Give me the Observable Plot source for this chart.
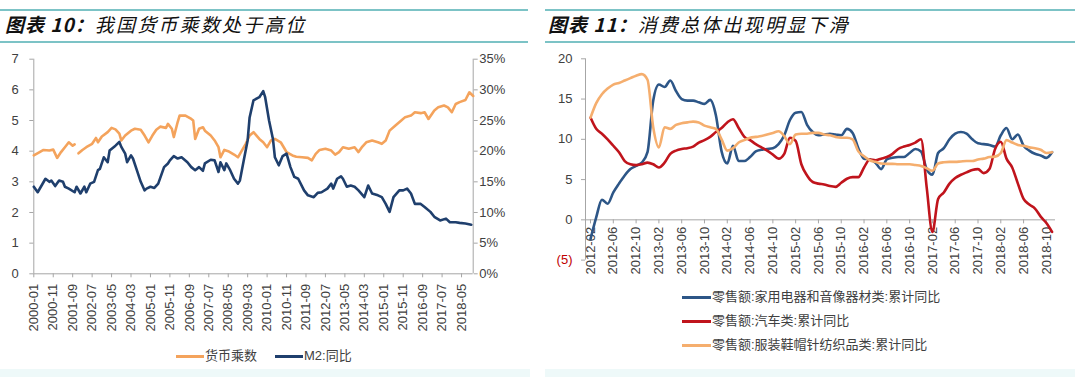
<!DOCTYPE html>
<html><head><meta charset="utf-8">
<script src="https://cdn.jsdelivr.net/npm/d3@7"></script>
<script src="https://cdn.jsdelivr.net/npm/@observablehq/plot@0.6"></script>
<style>
body{margin:0;background:#fff;width:1080px;height:377px;overflow:hidden;position:relative;font-family:"Liberation Sans","Noto Sans CJK SC",Arial,sans-serif;}
.abs{position:absolute;}
.tline{position:absolute;height:1.5px;background:#7cc3c6;}
.title{position:absolute;top:10px;font-family:"Noto Sans CJK SC",sans-serif;font-style:italic;font-size:19px;letter-spacing:2.2px;line-height:28px;color:#111;white-space:nowrap;}
.title b{font-weight:700;letter-spacing:1px;}
.band{position:absolute;top:369px;height:8px;background:#eef9f9;}
.sw{position:absolute;height:3px;}
.lt{position:absolute;font-size:13px;line-height:16px;color:#404040;white-space:nowrap;font-family:"Liberation Sans","Noto Sans CJK SC",sans-serif;}
</style></head>
<body>
<div class="tline" style="left:0;width:528px;top:9px"></div>
<div class="tline" style="left:0;width:528px;top:41px"></div>
<div class="title" style="left:5px"><b>图表 10：</b>我国货币乘数处于高位</div>
<div class="tline" style="left:545px;width:530px;top:9px"></div>
<div class="tline" style="left:545px;width:530px;top:41px"></div>
<div class="title" style="left:548px"><b>图表 11：</b>消费总体出现明显下滑</div>
<div id="left" class="abs" style="left:0;top:45px"></div>
<div id="right" class="abs" style="left:540px;top:45px"></div>
<div id="legL"></div><div id="legR"></div>
<div class="band" style="left:0;width:530px"></div>
<div class="band" style="left:545px;width:530px"></div>
<script>
// ---------- Chart 10: money multiplier & M2 ----------
const leftXTicks = ["2000-01","2000-11","2001-09","2002-07","2003-05","2004-03","2005-01","2005-11","2006-09","2007-07","2008-05","2009-03","2010-01","2010-11","2011-09","2012-07","2013-05","2014-03","2015-01","2015-11","2016-09","2017-07","2018-05"];
const leftYTicks = [0,1,2,3,4,5,6,7];
const rightYTicksPct = [0,5,10,15,20,25,30,35];

const mmDates = ["2000-01","2000-04","2000-06","2000-09","2000-11","2001-01","2001-03","2001-05","2001-07","2001-09","2001-10","2001-11","2001-12","2002-02","2002-04","2002-07","2002-09","2002-10","2002-12","2003-03","2003-05","2003-07","2003-09","2003-10","2003-12","2004-03","2004-05","2004-08","2004-10","2004-12","2005-02","2005-04","2005-06","2005-09","2005-10","2005-12","2006-01","2006-03","2006-04","2006-07","2006-10","2006-11","2006-12","2007-02","2007-04","2007-05","2007-08","2007-10","2007-12","2008-01","2008-03","2008-05","2008-08","2008-10","2008-12","2009-02","2009-04","2009-06","2009-09","2009-11","2010-01","2010-03","2010-05","2010-08","2010-10","2010-11","2011-02","2011-04","2011-07","2011-10","2011-12","2012-02","2012-04","2012-07","2012-10","2012-12","2013-02","2013-04","2013-07","2013-10","2013-12","2014-02","2014-04","2014-07","2014-10","2014-12","2015-02","2015-04","2015-07","2015-10","2015-12","2016-03","2016-05","2016-08","2016-10","2016-12","2017-03","2017-05","2017-08","2017-10","2017-12","2018-02","2018-04","2018-07","2018-09","2018-11"];
const mmValues = [3.86,3.97,4.04,4.02,4.05,3.78,3.97,4.13,4.29,4.18,4.22,null,3.93,4.04,4.13,4.24,4.43,4.29,4.48,4.62,4.76,4.71,4.57,4.35,4.51,4.67,4.73,4.70,4.51,4.29,4.51,4.70,4.80,4.76,4.89,4.73,4.46,4.95,5.16,5.16,5.05,5.00,4.40,4.73,4.78,4.67,4.51,4.35,4.13,3.80,4.04,4.00,3.89,3.80,4.02,4.24,4.51,4.62,4.40,4.29,4.13,4.35,4.40,4.29,4.08,3.97,3.86,3.82,3.80,3.78,3.70,3.91,4.04,4.08,4.02,3.89,3.97,4.13,4.08,4.13,3.97,4.15,4.29,4.35,4.29,4.24,4.35,4.67,4.84,5.00,5.11,5.16,5.27,5.24,5.27,5.05,5.33,5.43,5.49,5.43,5.27,5.54,5.60,5.67,5.92,5.80];

const m2Dates = ["2000-01","2000-03","2000-05","2000-07","2000-09","2000-10","2000-12","2001-02","2001-04","2001-05","2001-07","2001-10","2001-11","2002-01","2002-03","2002-04","2002-06","2002-08","2002-10","2002-11","2003-01","2003-03","2003-04","2003-07","2003-09","2003-10","2003-12","2004-01","2004-03","2004-04","2004-06","2004-08","2004-10","2004-11","2005-01","2005-03","2005-05","2005-08","2005-10","2005-11","2006-01","2006-03","2006-05","2006-08","2006-10","2006-12","2007-02","2007-04","2007-05","2007-08","2007-10","2007-12","2008-01","2008-03","2008-04","2008-06","2008-08","2008-10","2008-11","2009-01","2009-03","2009-04","2009-06","2009-09","2009-11","2009-12","2010-02","2010-04","2010-05","2010-07","2010-09","2010-11","2011-01","2011-03","2011-05","2011-08","2011-10","2012-01","2012-03","2012-05","2012-08","2012-10","2012-11","2013-01","2013-03","2013-04","2013-06","2013-08","2013-10","2013-12","2014-03","2014-05","2014-07","2014-10","2014-12","2015-02","2015-04","2015-06","2015-09","2015-11","2016-01","2016-03","2016-05","2016-08","2016-10","2017-01","2017-03","2017-06","2017-09","2017-11","2018-02","2018-04","2018-07","2018-10"];
const m2Values = [14.2,13.3,14.4,15.5,15.0,15.2,14.3,15.2,15.0,14.2,13.9,13.3,14.2,13.1,14.2,13.3,14.7,15.0,16.9,17.1,19.0,18.2,20.1,20.9,21.5,20.7,19.6,18.2,19.3,18.8,16.9,15.0,13.6,13.9,14.2,14.0,14.7,17.4,18.0,18.5,19.2,18.8,19.0,18.2,17.4,16.9,17.4,16.8,18.0,18.6,18.5,16.6,18.2,16.9,18.0,16.9,15.5,14.7,15.2,18.5,21.8,25.5,28.3,28.8,29.8,28.8,25.0,22.0,19.0,17.7,19.2,19.6,17.4,15.8,15.5,13.6,12.8,12.5,13.2,13.3,13.9,14.7,13.9,15.5,15.9,15.5,14.2,14.4,14.2,13.6,12.5,14.4,13.1,12.8,12.5,11.4,10.1,12.5,13.6,13.6,13.9,13.1,11.4,11.4,10.9,10.1,9.3,8.7,9.0,8.4,8.4,8.3,8.2,8.0];

// ---------- Chart 11: retail sales ----------
const retailDates = ["2012-02","2012-03","2012-04","2012-05","2012-06","2012-07","2012-08","2012-09","2012-10","2012-11","2012-12",
"2013-01","2013-02","2013-03","2013-04","2013-05","2013-06","2013-07","2013-08","2013-09","2013-10","2013-11","2013-12",
"2014-01","2014-02","2014-03","2014-04","2014-05","2014-06","2014-07","2014-08","2014-09","2014-10","2014-11","2014-12",
"2015-01","2015-02","2015-03","2015-04","2015-05","2015-06","2015-07","2015-08","2015-09","2015-10","2015-11","2015-12",
"2016-01","2016-02","2016-03","2016-04","2016-05","2016-06","2016-07","2016-08","2016-09","2016-10","2016-11","2016-12",
"2017-01","2017-02","2017-03","2017-04","2017-05","2017-06","2017-07","2017-08","2017-09","2017-10","2017-11","2017-12",
"2018-01","2018-02","2018-03","2018-04","2018-05","2018-06","2018-07","2018-08","2018-09","2018-10","2018-11"];
const applianceValues = [-2.4,0.3,2.5,2.0,3.4,4.5,5.5,6.3,6.7,7.1,8.4,14.8,16.8,16.5,17.3,16.0,15.0,14.8,14.8,14.6,14.4,14.9,13.0,8.5,7.0,9.2,7.3,7.3,7.8,8.5,8.7,8.8,8.9,9.4,10.5,12.4,13.3,13.4,11.8,10.9,10.5,10.6,10.7,10.6,10.5,11.3,10.8,8.9,7.6,7.5,7.1,6.3,7.5,7.7,7.8,7.8,8.3,8.8,8.5,6.3,5.6,8.3,8.9,10.0,10.7,10.9,10.7,10.0,9.5,9.4,9.3,9.1,10.5,11.4,10.0,10.6,9.2,8.6,8.2,8.0,7.7,8.4];
const autoValues = [12.7,11.3,10.7,10.0,9.2,8.4,7.3,6.9,6.8,6.9,7.1,6.9,6.5,7.1,8.2,8.6,8.8,8.9,9.1,9.6,9.9,10.3,10.9,11.4,12.1,12.5,11.4,10.3,9.9,9.4,9.0,8.6,8.1,7.6,8.2,10.2,9.8,6.9,5.5,4.7,4.5,4.4,4.2,4.1,4.6,5.1,5.3,5.3,6.5,7.5,7.4,7.6,7.8,8.2,8.8,9.1,9.3,9.6,10.0,4.0,-1.5,2.6,3.4,4.5,5.2,5.6,5.9,6.2,6.3,5.8,6.3,8.8,9.7,7.6,6.5,4.5,2.6,1.9,1.4,0.4,-0.4,-1.5];
const apparelValues = [12.7,14.5,15.6,16.3,16.8,17.0,17.3,17.6,17.9,18.1,17.4,11.5,9.0,11.5,11.3,11.8,12.0,12.1,12.2,12.1,11.7,11.5,11.3,10.0,8.6,8.9,9.6,9.9,10.2,10.3,10.4,10.6,10.8,11.0,10.4,9.4,10.6,10.7,10.7,10.8,10.8,10.6,10.5,10.3,10.2,10.2,10.0,8.5,7.9,7.4,7.2,7.0,6.95,6.95,6.9,6.9,6.9,6.8,6.7,6.4,6.1,7.0,7.15,7.2,7.2,7.25,7.3,7.3,7.5,7.6,7.8,7.85,8.3,9.9,9.6,9.3,9.2,9.0,8.9,8.7,8.3,8.4];
const rightXTicks = ["2012-02","2012-06","2012-10","2013-02","2013-06","2013-10","2014-02","2014-06","2014-10","2015-02","2015-06","2015-10","2016-02","2016-06","2016-10","2017-02","2017-06","2017-10","2018-02","2018-06","2018-10"];
const retailYTicks = [0,5,10,15,20];
const retailNames = ["零售额:家用电器和音像器材类:累计同比","零售额:汽车类:累计同比","零售额:服装鞋帽针纺织品类:累计同比"];
const retailColors = ["#2d5687","#c0141c","#f5ae6e"];

const GREY = "#a6a6a6", TXT = "#404040";
const FONT = "'Liberation Sans','Noto Sans CJK SC',Arial,sans-serif";

// month index helpers
const idx2000 = s => { const [y,m] = s.split("-").map(Number); return (y-2000)*12 + m - 1; };
const idx2012 = s => { const [y,m] = s.split("-").map(Number); return (y-2012)*12 + m - 2; };

const mmData = mmDates.map((d,i)=>({x: idx2000(d), y: mmValues[i]}));
const m2Data = m2Dates.map((d,i)=>({x: idx2000(d), y: m2Values[i]/5})); // right axis: 35% aligned with 7
const leftLab = new Map(leftXTicks.map(s=>[idx2000(s), s]));

const left = Plot.plot({
  width:540, height:295, marginLeft:33.3, marginRight:67.3, marginTop:13.7, marginBottom:66.7,
  style:{fontFamily:FONT, fontSize:"13px", color:TXT, background:"transparent"},
  x:{type:"linear", domain:[0,226]},
  y:{domain:[0,7]},
  marks:[
    Plot.ruleX([0], {stroke:GREY}),
    Plot.ruleX([226], {stroke:GREY}),
    Plot.ruleY([0], {stroke:GREY}),
    Plot.axisY({ticks:leftYTicks, tickFormat:d=>String(d), tickSize:4, tickPadding:11, stroke:GREY, fill:TXT, label:null}),
    Plot.axisY({anchor:"right", ticks:rightYTicksPct.map(v=>v/5), tickFormat:v=>Math.round(v*5)+"%", tickSize:4, tickPadding:2, stroke:GREY, fill:TXT, label:null}),
    Plot.axisX({ticks:leftXTicks.map(idx2000), tickFormat:i=>leftLab.get(i), tickRotate:-90, tickSize:4, tickPadding:6, stroke:GREY, fill:TXT, label:null}),
    Plot.lineY(mmData, {x:"x", y:"y", stroke:"#f4a35c", strokeWidth:2.6}),
    Plot.lineY(m2Data, {x:"x", y:"y", stroke:"#1f3f6d", strokeWidth:2.6})
  ]
});
document.getElementById("left").append(left);

const series = [applianceValues, autoValues, apparelValues];
const retailData = series.flatMap((vals,k)=>retailDates.map((d,i)=>({x: idx2012(d), y: vals[i], s: retailNames[k]})));
const x0 = -0.88;
const right = Plot.plot({
  width:540, height:240, marginLeft:45, marginRight:25, marginTop:13.3, marginBottom:25.4,
  style:{fontFamily:FONT, fontSize:"13px", color:TXT, background:"transparent"},
  x:{type:"linear", domain:[x0, 81.6], axis:null},
  y:{domain:[-5,20]},
  color:{domain:retailNames, range:retailColors},
  marks:[
    Plot.ruleX([x0], {stroke:GREY}),
    Plot.ruleY([0], {stroke:GREY}),
    Plot.axisY({ticks:retailYTicks, tickFormat:d=>String(d), tickSize:4, tickPadding:9, stroke:GREY, fill:TXT, label:null}),
    Plot.axisY({ticks:[-5], tickFormat:v=>`(${-v})`, tickSize:4, tickPadding:9, stroke:GREY, fill:"#c00000", label:null}),
    Plot.ruleX(rightXTicks.map(idx2012), {y1:0, y2:-0.5, stroke:GREY}),
    Plot.text(rightXTicks, {x:idx2012, y:()=>0, text:d=>d, rotate:-90, textAnchor:"end", lineAnchor:"middle", dy:7, fill:TXT}),
    Plot.line(retailData, {x:"x", y:"y", z:"s", stroke:"s", strokeWidth:2.6, curve:"monotone-x"})
  ]
});
document.getElementById("right").append(right);

// legends
function sw(parent, left, top, w, color){ const e=document.createElement("div"); e.className="sw"; e.style.cssText=`left:${left}px;top:${top}px;width:${w}px;background:${color}`; parent.append(e); }
function lt(parent, left, top, text){ const e=document.createElement("div"); e.className="lt"; e.style.left=left+"px"; e.style.top=top+"px"; e.textContent=text; parent.append(e); }
const legL = document.getElementById("legL");
sw(legL,176,355,28,"#f4a35c"); lt(legL,205,348,"货币乘数");
sw(legL,275,355,28,"#1f3f6d"); lt(legL,304,348,"M2:同比");
const legR = document.getElementById("legR");
[297,321,345].forEach((cy,k)=>{ sw(legR,682,cy-1.5,29,retailColors[k]); lt(legR,712,cy-8,retailNames[k]); });
</script>
</body></html>
